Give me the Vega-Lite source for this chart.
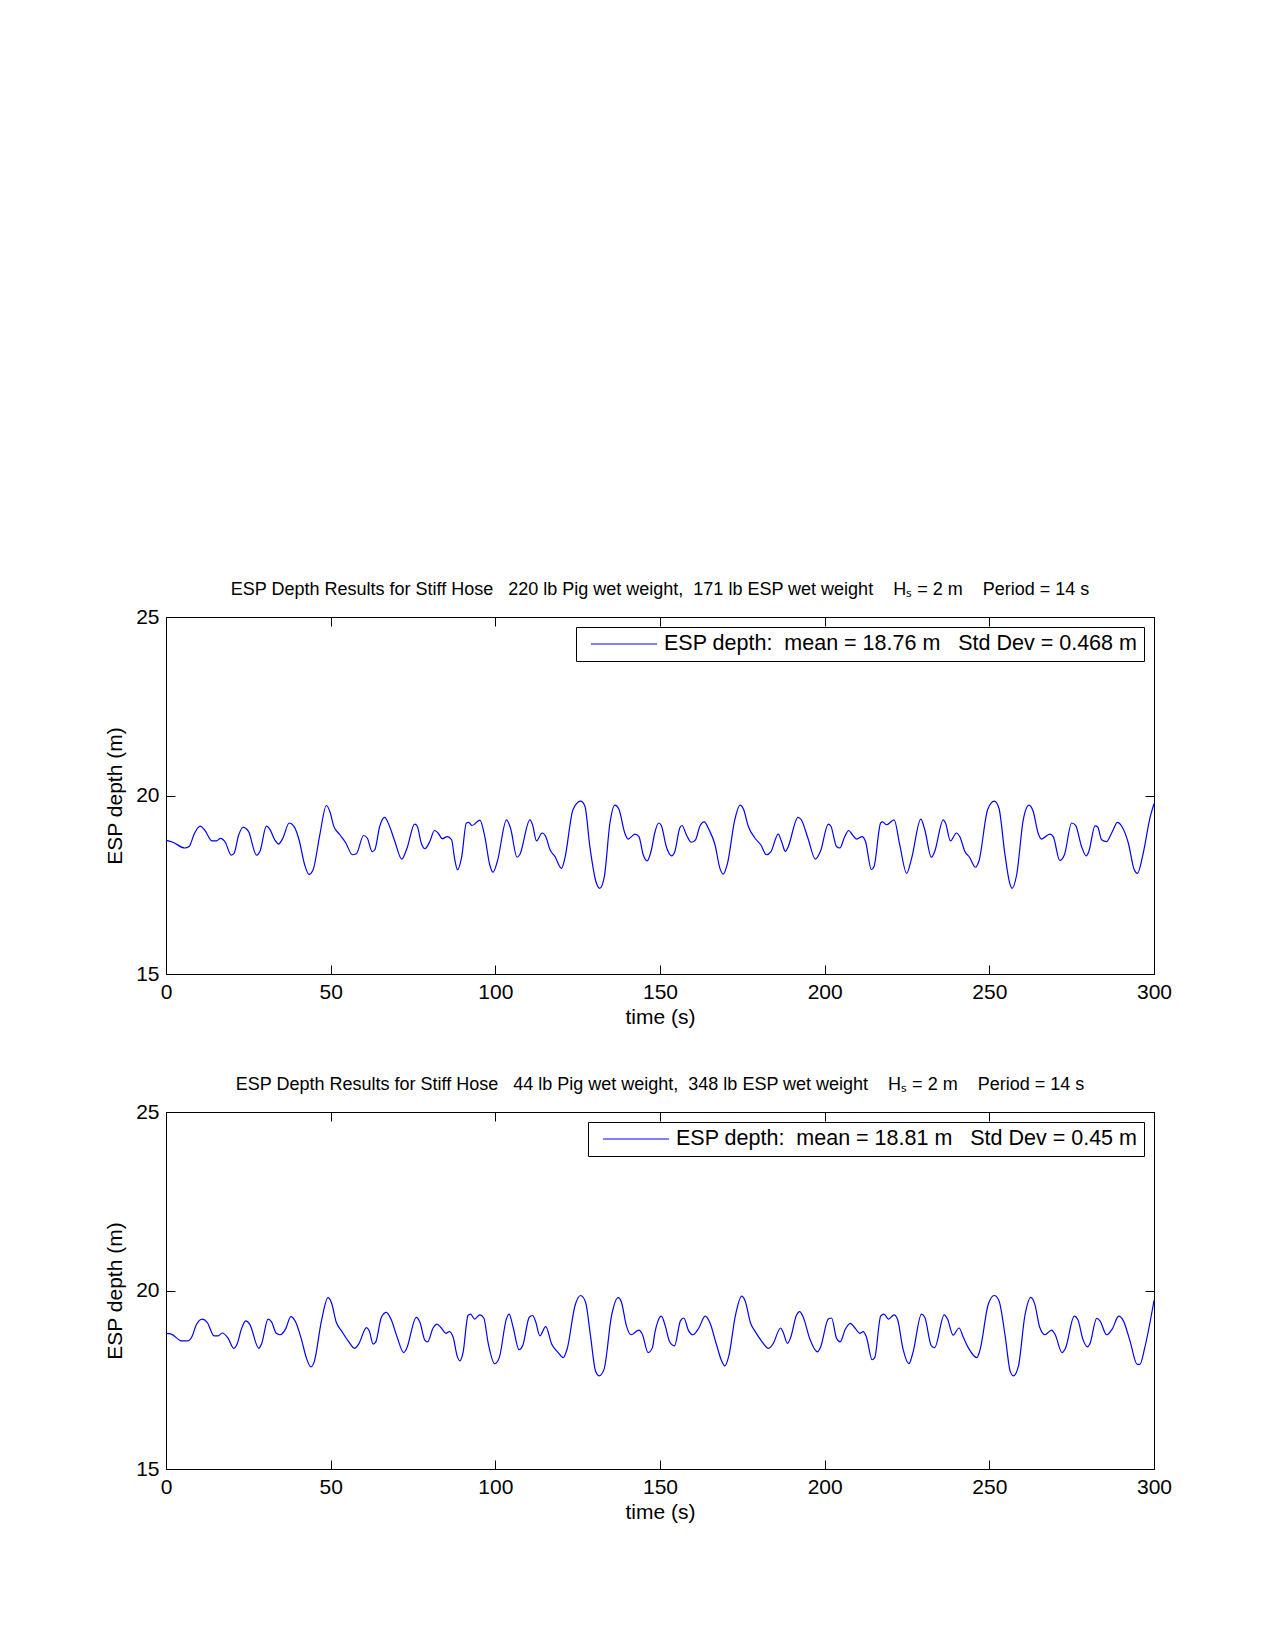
{
  "$schema": "https://vega.github.io/schema/vega-lite/v6.json",
  "background": "white",
  "padding": {"left": 104, "top": 580, "right": 20, "bottom": 20},
  "bounds": "flush",
  "spacing": 138,
  "config": {
    "font": "Liberation Sans",
    "view": {"stroke": "black", "strokeWidth": 1},
    "axis": {
      "grid": false,
      "domain": false,
      "tickColor": "black",
      "tickSize": -9,
      "labelPadding": 16,
      "labelFlush": false,
      "labelFontSize": 21,
      "labelColor": "black",
      "labelFont": "Liberation Sans",
      "titleFont": "Liberation Sans",
      "titleFontSize": 21,
      "titleFontWeight": "normal",
      "titleColor": "black"
    },
    "line": {"color": "#0000ff", "strokeWidth": 1.2},
    "title": {"fontSize": 18, "fontWeight": "normal", "color": "black", "font": "Liberation Sans", "offset": 7}
  },
  "resolve": {"scale": {"color": "independent"}, "legend": {"color": "independent"}},
  "datasets": {
    "hose220": [
      {"time": 0, "depth": 18.75}, {"time": 2.1, "depth": 18.69}, {"time": 5.7, "depth": 18.53}, {"time": 7.0, "depth": 18.57},
      {"time": 8.7, "depth": 18.95}, {"time": 10.4, "depth": 19.14}, {"time": 11.7, "depth": 19.04}, {"time": 14.0, "depth": 18.73},
      {"time": 15.3, "depth": 18.73}, {"time": 16.6, "depth": 18.80}, {"time": 18.0, "depth": 18.69}, {"time": 19.8, "depth": 18.33},
      {"time": 20.6, "depth": 18.37}, {"time": 22.1, "depth": 18.90}, {"time": 23.4, "depth": 19.11}, {"time": 25.0, "depth": 19.00},
      {"time": 27.5, "depth": 18.33}, {"time": 28.5, "depth": 18.43}, {"time": 30.5, "depth": 19.14}, {"time": 31.5, "depth": 19.06},
      {"time": 33.0, "depth": 18.76}, {"time": 34.2, "depth": 18.64}, {"time": 35.5, "depth": 18.81}, {"time": 37.4, "depth": 19.23},
      {"time": 38.8, "depth": 19.14}, {"time": 40.4, "depth": 18.76}, {"time": 42.1, "depth": 18.06}, {"time": 43.4, "depth": 17.79},
      {"time": 44.7, "depth": 17.93}, {"time": 46.7, "depth": 18.90}, {"time": 48.7, "depth": 19.72}, {"time": 49.9, "depth": 19.51},
      {"time": 50.9, "depth": 19.15}, {"time": 52.8, "depth": 18.90}, {"time": 54.6, "depth": 18.67}, {"time": 56.6, "depth": 18.34},
      {"time": 57.8, "depth": 18.37}, {"time": 60.0, "depth": 18.88}, {"time": 61.1, "depth": 18.81}, {"time": 62.6, "depth": 18.43},
      {"time": 63.4, "depth": 18.48}, {"time": 64.9, "depth": 19.14}, {"time": 66.4, "depth": 19.39}, {"time": 67.7, "depth": 19.18},
      {"time": 69.5, "depth": 18.71}, {"time": 71.6, "depth": 18.22}, {"time": 73.2, "depth": 18.53}, {"time": 75.5, "depth": 19.20},
      {"time": 76.3, "depth": 19.14}, {"time": 77.5, "depth": 18.67}, {"time": 78.6, "depth": 18.51}, {"time": 80.1, "depth": 18.71},
      {"time": 81.5, "depth": 19.02}, {"time": 82.6, "depth": 18.95}, {"time": 83.9, "depth": 18.79}, {"time": 85.4, "depth": 18.85},
      {"time": 86.7, "depth": 18.76}, {"time": 87.7, "depth": 18.20}, {"time": 88.5, "depth": 17.92}, {"time": 89.8, "depth": 18.29},
      {"time": 91.2, "depth": 19.23}, {"time": 91.9, "depth": 19.25}, {"time": 92.9, "depth": 19.16}, {"time": 95.3, "depth": 19.31},
      {"time": 96.8, "depth": 18.85}, {"time": 98.3, "depth": 18.06}, {"time": 99.3, "depth": 17.85}, {"time": 100.6, "depth": 18.15},
      {"time": 103.4, "depth": 19.32}, {"time": 104.6, "depth": 19.09}, {"time": 106.6, "depth": 18.27}, {"time": 107.4, "depth": 18.34},
      {"time": 110.5, "depth": 19.32}, {"time": 111.3, "depth": 19.18}, {"time": 112.5, "depth": 18.73}, {"time": 114.2, "depth": 18.95},
      {"time": 115.3, "depth": 18.85}, {"time": 116.6, "depth": 18.48}, {"time": 118.1, "depth": 18.29}, {"time": 120.1, "depth": 17.96},
      {"time": 121.1, "depth": 18.24}, {"time": 123.6, "depth": 19.61}, {"time": 125.9, "depth": 19.84}, {"time": 127.2, "depth": 19.70},
      {"time": 128.7, "depth": 18.57}, {"time": 130.7, "depth": 17.54}, {"time": 131.7, "depth": 17.40}, {"time": 133.1, "depth": 17.73},
      {"time": 134.8, "depth": 19.23}, {"time": 136.3, "depth": 19.73}, {"time": 137.5, "depth": 19.62}, {"time": 139.3, "depth": 18.95},
      {"time": 140.3, "depth": 18.78}, {"time": 142.4, "depth": 18.92}, {"time": 143.6, "depth": 18.85}, {"time": 144.9, "depth": 18.34},
      {"time": 146.1, "depth": 18.17}, {"time": 147.4, "depth": 18.48}, {"time": 148.4, "depth": 18.95}, {"time": 149.6, "depth": 19.23},
      {"time": 150.4, "depth": 19.16}, {"time": 151.9, "depth": 18.57}, {"time": 153.5, "depth": 18.31}, {"time": 154.5, "depth": 18.43},
      {"time": 156.0, "depth": 19.09}, {"time": 156.7, "depth": 19.16}, {"time": 158.0, "depth": 18.90}, {"time": 159.5, "depth": 18.69},
      {"time": 160.8, "depth": 18.76}, {"time": 162.1, "depth": 19.14}, {"time": 163.4, "depth": 19.26}, {"time": 164.9, "depth": 19.04},
      {"time": 166.7, "depth": 18.62}, {"time": 168.2, "depth": 17.96}, {"time": 169.2, "depth": 17.80}, {"time": 170.5, "depth": 18.10},
      {"time": 172.7, "depth": 19.32}, {"time": 174.3, "depth": 19.73}, {"time": 175.3, "depth": 19.63}, {"time": 176.8, "depth": 19.14},
      {"time": 178.8, "depth": 18.81}, {"time": 180.6, "depth": 18.62}, {"time": 182.3, "depth": 18.34}, {"time": 183.7, "depth": 18.43},
      {"time": 185.9, "depth": 18.92}, {"time": 186.9, "depth": 18.71}, {"time": 188.1, "depth": 18.43}, {"time": 188.9, "depth": 18.56},
      {"time": 191.9, "depth": 19.39}, {"time": 192.9, "depth": 19.32}, {"time": 194.9, "depth": 18.81}, {"time": 197.2, "depth": 18.22},
      {"time": 198.7, "depth": 18.43}, {"time": 201.1, "depth": 19.20}, {"time": 201.9, "depth": 19.14}, {"time": 203.6, "depth": 18.57},
      {"time": 204.6, "depth": 18.53}, {"time": 206.1, "depth": 18.85}, {"time": 207.3, "depth": 19.02}, {"time": 208.4, "depth": 18.90},
      {"time": 209.7, "depth": 18.78}, {"time": 211.4, "depth": 18.85}, {"time": 212.4, "depth": 18.71}, {"time": 214.2, "depth": 17.92},
      {"time": 215.0, "depth": 18.01}, {"time": 217.0, "depth": 19.23}, {"time": 217.6, "depth": 19.26}, {"time": 218.8, "depth": 19.18},
      {"time": 221.1, "depth": 19.32}, {"time": 222.8, "depth": 18.62}, {"time": 224.9, "depth": 17.82}, {"time": 226.4, "depth": 18.24},
      {"time": 229.2, "depth": 19.34}, {"time": 230.4, "depth": 19.04}, {"time": 232.4, "depth": 18.27}, {"time": 233.4, "depth": 18.43},
      {"time": 236.0, "depth": 19.32}, {"time": 236.7, "depth": 19.23}, {"time": 238.2, "depth": 18.73}, {"time": 240.0, "depth": 18.95},
      {"time": 241.0, "depth": 18.85}, {"time": 242.6, "depth": 18.43}, {"time": 244.0, "depth": 18.27}, {"time": 245.8, "depth": 17.99},
      {"time": 246.8, "depth": 18.15}, {"time": 249.5, "depth": 19.61}, {"time": 251.5, "depth": 19.84}, {"time": 252.9, "depth": 19.65},
      {"time": 254.7, "depth": 18.38}, {"time": 256.2, "depth": 17.54}, {"time": 256.9, "depth": 17.40}, {"time": 258.3, "depth": 17.78},
      {"time": 260.3, "depth": 19.32}, {"time": 262.0, "depth": 19.73}, {"time": 263.3, "depth": 19.56}, {"time": 264.8, "depth": 18.95},
      {"time": 265.8, "depth": 18.78}, {"time": 268.4, "depth": 18.92}, {"time": 269.4, "depth": 18.85}, {"time": 271.4, "depth": 18.18},
      {"time": 272.8, "depth": 18.34}, {"time": 275.0, "depth": 19.23}, {"time": 276.2, "depth": 19.16}, {"time": 278.0, "depth": 18.57},
      {"time": 279.4, "depth": 18.31}, {"time": 280.2, "depth": 18.43}, {"time": 282.1, "depth": 19.15}, {"time": 282.9, "depth": 19.12},
      {"time": 284.1, "depth": 18.76}, {"time": 285.6, "depth": 18.71}, {"time": 287.4, "depth": 19.00}, {"time": 288.9, "depth": 19.25},
      {"time": 290.2, "depth": 19.14}, {"time": 292.2, "depth": 18.67}, {"time": 294.0, "depth": 17.92}, {"time": 295.0, "depth": 17.82},
      {"time": 296.5, "depth": 18.29}, {"time": 298.9, "depth": 19.42}, {"time": 300.0, "depth": 19.77}
    ],
    "hose44": [
      {"time": 0, "depth": 18.80}, {"time": 1.6, "depth": 18.78}, {"time": 4.7, "depth": 18.59}, {"time": 6.7, "depth": 18.59},
      {"time": 7.9, "depth": 18.71}, {"time": 9.2, "depth": 19.04}, {"time": 11.0, "depth": 19.20}, {"time": 12.5, "depth": 19.11},
      {"time": 14.6, "depth": 18.73}, {"time": 15.8, "depth": 18.73}, {"time": 17.1, "depth": 18.81}, {"time": 18.8, "depth": 18.67},
      {"time": 20.6, "depth": 18.38}, {"time": 21.6, "depth": 18.50}, {"time": 22.9, "depth": 18.92}, {"time": 24.2, "depth": 19.15},
      {"time": 25.4, "depth": 19.06}, {"time": 28.2, "depth": 18.38}, {"time": 29.0, "depth": 18.50}, {"time": 31.0, "depth": 19.20},
      {"time": 32.0, "depth": 19.13}, {"time": 33.5, "depth": 18.80}, {"time": 34.7, "depth": 18.76}, {"time": 36.4, "depth": 18.94},
      {"time": 37.9, "depth": 19.27}, {"time": 39.3, "depth": 19.13}, {"time": 41.1, "depth": 18.64}, {"time": 42.6, "depth": 18.12},
      {"time": 44.0, "depth": 17.86}, {"time": 45.0, "depth": 18.00}, {"time": 47.2, "depth": 19.15}, {"time": 49.2, "depth": 19.80},
      {"time": 50.2, "depth": 19.67}, {"time": 51.7, "depth": 19.11}, {"time": 53.3, "depth": 18.87}, {"time": 55.3, "depth": 18.59},
      {"time": 57.3, "depth": 18.38}, {"time": 58.5, "depth": 18.50}, {"time": 60.9, "depth": 18.96}, {"time": 61.7, "depth": 18.87},
      {"time": 62.9, "depth": 18.50}, {"time": 63.7, "depth": 18.56}, {"time": 65.4, "depth": 19.25}, {"time": 66.9, "depth": 19.39},
      {"time": 68.3, "depth": 19.20}, {"time": 70.2, "depth": 18.69}, {"time": 72.2, "depth": 18.26}, {"time": 73.0, "depth": 18.36},
      {"time": 76.0, "depth": 19.25}, {"time": 77.1, "depth": 19.11}, {"time": 78.6, "depth": 18.61}, {"time": 79.4, "depth": 18.56},
      {"time": 81.1, "depth": 18.95}, {"time": 82.3, "depth": 19.06}, {"time": 83.6, "depth": 18.95}, {"time": 85.0, "depth": 18.80},
      {"time": 86.0, "depth": 18.85}, {"time": 87.2, "depth": 18.69}, {"time": 88.4, "depth": 18.17}, {"time": 89.2, "depth": 18.03},
      {"time": 90.2, "depth": 18.26}, {"time": 91.7, "depth": 19.30}, {"time": 92.5, "depth": 19.34}, {"time": 93.7, "depth": 19.20},
      {"time": 95.3, "depth": 19.32}, {"time": 96.5, "depth": 19.23}, {"time": 97.8, "depth": 18.54}, {"time": 99.8, "depth": 17.95},
      {"time": 101.2, "depth": 18.12}, {"time": 103.4, "depth": 19.22}, {"time": 104.2, "depth": 19.34}, {"time": 105.4, "depth": 18.97},
      {"time": 107.2, "depth": 18.34}, {"time": 108.3, "depth": 18.45}, {"time": 110.3, "depth": 19.25}, {"time": 111.3, "depth": 19.30},
      {"time": 112.3, "depth": 19.11}, {"time": 113.5, "depth": 18.73}, {"time": 115.3, "depth": 18.99}, {"time": 117.1, "depth": 18.50},
      {"time": 119.1, "depth": 18.26}, {"time": 120.6, "depth": 18.12}, {"time": 121.8, "depth": 18.36}, {"time": 124.2, "depth": 19.58},
      {"time": 125.9, "depth": 19.86}, {"time": 127.4, "depth": 19.67}, {"time": 128.9, "depth": 18.73}, {"time": 130.4, "depth": 17.75},
      {"time": 131.5, "depth": 17.61}, {"time": 133.0, "depth": 17.79}, {"time": 135.3, "depth": 19.30}, {"time": 137.3, "depth": 19.80},
      {"time": 138.3, "depth": 19.67}, {"time": 139.8, "depth": 19.01}, {"time": 141.2, "depth": 18.76}, {"time": 143.6, "depth": 18.89},
      {"time": 144.6, "depth": 18.78}, {"time": 146.4, "depth": 18.26}, {"time": 147.7, "depth": 18.40}, {"time": 148.4, "depth": 18.80},
      {"time": 149.4, "depth": 19.15}, {"time": 150.4, "depth": 19.28}, {"time": 151.6, "depth": 19.01}, {"time": 152.9, "depth": 18.57},
      {"time": 154.4, "depth": 18.45}, {"time": 156.2, "depth": 19.15}, {"time": 157.2, "depth": 19.23}, {"time": 158.7, "depth": 18.87},
      {"time": 160.0, "depth": 18.76}, {"time": 161.8, "depth": 18.95}, {"time": 163.7, "depth": 19.28}, {"time": 165.1, "depth": 19.11},
      {"time": 167.1, "depth": 18.50}, {"time": 168.7, "depth": 18.03}, {"time": 169.7, "depth": 17.89}, {"time": 170.9, "depth": 18.17},
      {"time": 172.9, "depth": 19.30}, {"time": 174.8, "depth": 19.84}, {"time": 175.8, "depth": 19.72}, {"time": 177.6, "depth": 19.06},
      {"time": 178.8, "depth": 18.87}, {"time": 180.8, "depth": 18.59}, {"time": 183.0, "depth": 18.38}, {"time": 184.4, "depth": 18.52},
      {"time": 186.6, "depth": 18.95}, {"time": 187.4, "depth": 18.83}, {"time": 188.7, "depth": 18.52}, {"time": 189.7, "depth": 18.69},
      {"time": 191.4, "depth": 19.30}, {"time": 192.4, "depth": 19.41}, {"time": 193.5, "depth": 19.25}, {"time": 195.5, "depth": 18.64},
      {"time": 197.8, "depth": 18.28}, {"time": 198.7, "depth": 18.40}, {"time": 201.1, "depth": 19.20}, {"time": 202.1, "depth": 19.23},
      {"time": 203.6, "depth": 18.66}, {"time": 204.7, "depth": 18.56}, {"time": 206.3, "depth": 18.92}, {"time": 207.8, "depth": 19.08},
      {"time": 209.2, "depth": 18.95}, {"time": 210.7, "depth": 18.80}, {"time": 211.7, "depth": 18.85}, {"time": 212.7, "depth": 18.69},
      {"time": 214.4, "depth": 18.06}, {"time": 215.2, "depth": 18.12}, {"time": 217.0, "depth": 19.28}, {"time": 218.0, "depth": 19.34},
      {"time": 219.4, "depth": 19.20}, {"time": 221.1, "depth": 19.32}, {"time": 222.1, "depth": 19.20}, {"time": 223.8, "depth": 18.36},
      {"time": 225.6, "depth": 17.95}, {"time": 226.8, "depth": 18.26}, {"time": 229.4, "depth": 19.34}, {"time": 230.4, "depth": 19.25},
      {"time": 232.4, "depth": 18.45}, {"time": 233.4, "depth": 18.40}, {"time": 236.3, "depth": 19.32}, {"time": 237.3, "depth": 19.20},
      {"time": 239.0, "depth": 18.75}, {"time": 240.8, "depth": 18.95}, {"time": 242.1, "depth": 18.69}, {"time": 243.6, "depth": 18.40},
      {"time": 246.2, "depth": 18.12}, {"time": 247.1, "depth": 18.31}, {"time": 249.7, "depth": 19.62}, {"time": 251.5, "depth": 19.86},
      {"time": 252.9, "depth": 19.72}, {"time": 254.8, "depth": 18.73}, {"time": 256.3, "depth": 17.75}, {"time": 257.3, "depth": 17.61},
      {"time": 258.8, "depth": 17.87}, {"time": 260.8, "depth": 19.30}, {"time": 262.6, "depth": 19.81}, {"time": 263.8, "depth": 19.62},
      {"time": 265.3, "depth": 18.97}, {"time": 266.9, "depth": 18.76}, {"time": 268.9, "depth": 18.89}, {"time": 269.9, "depth": 18.78},
      {"time": 272.1, "depth": 18.26}, {"time": 273.1, "depth": 18.38}, {"time": 275.8, "depth": 19.28}, {"time": 276.8, "depth": 19.20},
      {"time": 278.5, "depth": 18.61}, {"time": 279.8, "depth": 18.42}, {"time": 280.5, "depth": 18.50}, {"time": 282.6, "depth": 19.22},
      {"time": 283.6, "depth": 19.15}, {"time": 285.6, "depth": 18.76}, {"time": 287.3, "depth": 18.92}, {"time": 289.3, "depth": 19.28},
      {"time": 290.7, "depth": 19.15}, {"time": 292.7, "depth": 18.59}, {"time": 294.9, "depth": 17.93}, {"time": 295.7, "depth": 17.93},
      {"time": 297.2, "depth": 18.40}, {"time": 300.0, "depth": 19.72}
    ]
  },
  "vconcat": [
    {
      "title": "ESP Depth Results for Stiff Hose \u00a0 220 lb Pig wet weight, \u00a0171 lb ESP wet weight \u00a0 \u00a0H\u209b = 2 m \u00a0 \u00a0Period = 14 s",
      "width": 988,
      "height": 357,
      "data": {"name": "hose220"},
      "resolve": {"scale": {"x": "independent", "y": "independent"}},
      "layer": [
        {
          "mark": {"type": "line", "interpolate": "monotone"},
          "encoding": {
            "x": {"field": "time", "type": "quantitative", "scale": {"domain": [0, 300], "nice": false},
                  "axis": {"orient": "bottom", "title": "time (s)", "values": [0, 50, 100, 150, 200, 250, 300], "titlePadding": 4}},
            "y": {"field": "depth", "type": "quantitative", "scale": {"domain": [15, 25], "nice": false, "zero": false},
                  "axis": {"orient": "left", "title": "ESP depth (m)", "values": [15, 20, 25], "titlePadding": 10}},
            "color": {"datum": "ESP depth: \u00a0mean = 18.76 m \u00a0 Std Dev = 0.468 m", "type": "nominal",
                      "scale": {"range": ["#0000ff"]},
                      "legend": {"title": null, "orient": "top-right", "offset": 10, "padding": 6,
                                 "strokeColor": "black", "fillColor": "white", "cornerRadius": 0,
                                 "symbolType": "M-0.2,0H6.4", "symbolSize": 400, "symbolStrokeWidth": 1.2,
                                 "labelFontSize": 21.5, "labelColor": "black", "labelLimit": 1000, "labelOffset": 60}}
          }
        },
        {
          "mark": {"type": "line", "opacity": 0},
          "encoding": {
            "x": {"field": "time", "type": "quantitative", "scale": {"domain": [0, 300], "nice": false},
                  "axis": {"orient": "top", "labels": false, "title": null, "values": [0, 50, 100, 150, 200, 250, 300]}},
            "y": {"field": "depth", "type": "quantitative", "scale": {"domain": [15, 25], "nice": false, "zero": false},
                  "axis": {"orient": "right", "labels": false, "title": null, "values": [15, 20, 25]}}
          }
        }
      ]
    },
    {
      "title": "ESP Depth Results for Stiff Hose \u00a0 44 lb Pig wet weight, \u00a0348 lb ESP wet weight \u00a0 \u00a0H\u209b = 2 m \u00a0 \u00a0Period = 14 s",
      "width": 988,
      "height": 357,
      "data": {"name": "hose44"},
      "resolve": {"scale": {"x": "independent", "y": "independent"}},
      "layer": [
        {
          "mark": {"type": "line", "interpolate": "monotone"},
          "encoding": {
            "x": {"field": "time", "type": "quantitative", "scale": {"domain": [0, 300], "nice": false},
                  "axis": {"orient": "bottom", "title": "time (s)", "values": [0, 50, 100, 150, 200, 250, 300], "titlePadding": 4}},
            "y": {"field": "depth", "type": "quantitative", "scale": {"domain": [15, 25], "nice": false, "zero": false},
                  "axis": {"orient": "left", "title": "ESP depth (m)", "values": [15, 20, 25], "titlePadding": 10}},
            "color": {"datum": "ESP depth: \u00a0mean = 18.81 m \u00a0 Std Dev = 0.45 m", "type": "nominal",
                      "scale": {"range": ["#0000ff"]},
                      "legend": {"title": null, "orient": "top-right", "offset": 10, "padding": 6,
                                 "strokeColor": "black", "fillColor": "white", "cornerRadius": 0,
                                 "symbolType": "M-0.2,0H6.4", "symbolSize": 400, "symbolStrokeWidth": 1.2,
                                 "labelFontSize": 21.5, "labelColor": "black", "labelLimit": 1000, "labelOffset": 60}}
          }
        },
        {
          "mark": {"type": "line", "opacity": 0},
          "encoding": {
            "x": {"field": "time", "type": "quantitative", "scale": {"domain": [0, 300], "nice": false},
                  "axis": {"orient": "top", "labels": false, "title": null, "values": [0, 50, 100, 150, 200, 250, 300]}},
            "y": {"field": "depth", "type": "quantitative", "scale": {"domain": [15, 25], "nice": false, "zero": false},
                  "axis": {"orient": "right", "labels": false, "title": null, "values": [15, 20, 25]}}
          }
        }
      ]
    }
  ]
}
